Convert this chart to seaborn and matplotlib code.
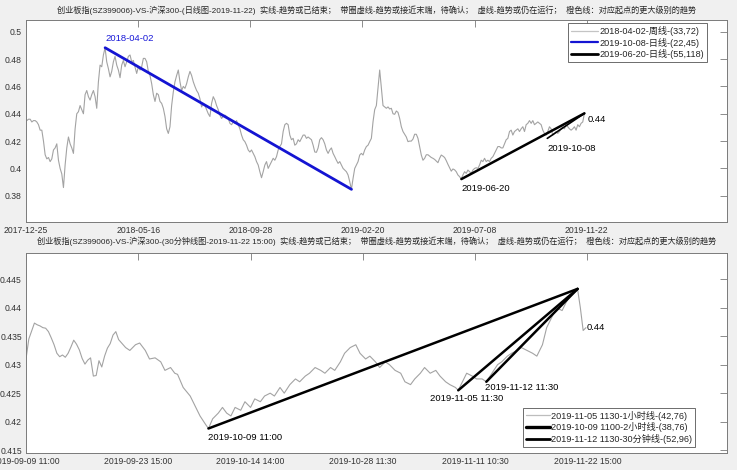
import numpy as np
import pandas as pd
import matplotlib
matplotlib.use("Agg")
import matplotlib.pyplot as plt
from matplotlib.lines import Line2D
from matplotlib.ticker import FuncFormatter
import seaborn as sns

# ---------------- data: daily chart (top) ----------------
TOP_TITLE = ("创业板指(SZ399006)-VS-沪深300-(日线图-2019-11-22)  实线-趋势或已结束；  "
             "带圈虚线-趋势或接近末端，待确认；  虚线-趋势或仍在运行；  橙色线：对应起点的更大级别的趋势")
TOP_TICK_IDX = [0, 94, 188, 282, 376, 470]
TOP_TICK_LABELS = ["2017-12-25", "2018-05-16", "2018-09-28", "2019-02-20", "2019-07-08", "2019-11-22"]
TOP_FIRST_IDX, TOP_LAST_IDX = 0.7, 468.0
TOP_VALUES = [
    0.435, 0.436, 0.436, 0.434, 0.435, 0.435, 0.434, 0.432, 0.428, 0.428,
    0.420, 0.410, 0.407, 0.408, 0.405, 0.407, 0.4135, 0.415, 0.418, 0.406,
    0.400, 0.396, 0.386, 0.4025, 0.415, 0.423, 0.418, 0.415, 0.411, 0.429,
    0.440, 0.4415, 0.446, 0.443, 0.440, 0.454, 0.457, 0.4525, 0.450, 0.454,
    0.457, 0.4525, 0.444, 0.4634, 0.4756, 0.4744, 0.483, 0.4883, 0.478, 0.473,
    0.467, 0.471, 0.478, 0.482, 0.4756, 0.472, 0.4664, 0.4756, 0.479, 0.4744,
    0.478, 0.482, 0.483, 0.478, 0.479, 0.4744, 0.4695, 0.4744, 0.472, 0.4744,
    0.4805, 0.4805, 0.478, 0.471, 0.468, 0.462, 0.454, 0.449, 0.455, 0.454,
    0.449, 0.4476, 0.444, 0.438, 0.429, 0.4256, 0.4305,
    0.446, 0.456, 0.4634, 0.468, 0.472, 0.4634, 0.457, 0.460, 0.4586, 0.462,
    0.467, 0.471, 0.468, 0.4634, 0.460, 0.457, 0.455, 0.451, 0.445, 0.4476,
    0.446, 0.443, 0.440, 0.438, 0.4476, 0.4525, 0.450, 0.446, 0.443, 0.439,
    0.4366, 0.438, 0.439, 0.438, 0.4366, 0.433, 0.432, 0.434, 0.433, 0.435,
    0.432, 0.429, 0.4244, 0.421, 0.4196, 0.417, 0.4135, 0.412, 0.4135, 0.411,
    0.4086, 0.405, 0.4025, 0.3976, 0.3932, 0.3976, 0.4025, 0.405, 0.400, 0.4025,
    0.405, 0.4074, 0.406, 0.4086, 0.4135, 0.416, 0.418, 0.427, 0.432, 0.433,
    0.432, 0.4244, 0.421, 0.422, 0.417, 0.418, 0.421, 0.4196, 0.422, 0.4244,
    0.4244, 0.422, 0.423, 0.422,
    0.421, 0.417, 0.412, 0.4118, 0.415, 0.421, 0.4225, 0.421, 0.418, 0.4135,
    0.411, 0.4135, 0.415, 0.411, 0.4086, 0.406, 0.4037, 0.405, 0.4025, 0.400,
    0.3988, 0.3976, 0.3952, 0.3903, 0.3847, 0.3927, 0.400, 0.4025, 0.405, 0.4098,
    0.411, 0.4098, 0.4135, 0.416, 0.417, 0.4196, 0.422, 0.4342, 0.443, 0.446,
    0.4586, 0.472, 0.4586, 0.446, 0.445, 0.444, 0.445, 0.4435, 0.444, 0.440,
    0.4396, 0.442, 0.441, 0.4366, 0.4305, 0.427, 0.425, 0.423, 0.4196, 0.420,
    0.420, 0.4215, 0.425, 0.425, 0.422, 0.416, 0.4098, 0.406, 0.4074, 0.410,
    0.410, 0.409, 0.408, 0.4074, 0.4066, 0.4054, 0.4042, 0.4074, 0.4098, 0.409,
    0.408, 0.4057, 0.403, 0.4005, 0.398, 0.3996, 0.399,
    0.3976, 0.3952, 0.394, 0.3922, 0.3952, 0.3976, 0.3964, 0.3988, 0.3976, 0.3964,
    0.3988, 0.400, 0.4005, 0.400, 0.4025, 0.406, 0.405, 0.4074, 0.405, 0.406,
    0.405, 0.4074, 0.4086, 0.411, 0.4135, 0.416, 0.416, 0.415, 0.415, 0.418,
    0.421, 0.422, 0.427, 0.428, 0.4244, 0.427, 0.428, 0.429, 0.427, 0.429,
    0.4305, 0.427, 0.432, 0.433, 0.435, 0.433, 0.435, 0.432, 0.433, 0.434,
    0.433, 0.432, 0.428, 0.4256, 0.4244, 0.427, 0.4305, 0.429, 0.4244, 0.4256,
    0.427, 0.4256, 0.427, 0.429, 0.4305, 0.429, 0.432, 0.4305, 0.429, 0.428,
    0.429, 0.4305, 0.428, 0.432, 0.4305, 0.433, 0.434, 0.4403,
]
TOP_LEGEND = ["2018-04-02-周线-(33,72)", "2019-10-08-日线-(22,45)", "2019-06-20-日线-(55,118)"]
BLUE_IDX, BLUE_VAL = [66.3, 272.8], [0.4883, 0.3847]
BLACK_IDX, BLACK_VAL = [364.9, 468.0], [0.3922, 0.4403]
SHORT_IDX, SHORT_VAL = [436.9, 468.0], [0.4220, 0.4403]
TOP_LABELS = ["2018-04-02", "2019-06-20", "2019-10-08", "0.44"]

# ---------------- data: 30-minute chart (bottom) ----------------
BOT_TITLE = ("创业板指(SZ399006)-VS-沪深300-(30分钟线图-2019-11-22 15:00)  实线-趋势或已结束；  "
             "带圈虚线-趋势或接近末端，待确认；  虚线-趋势或仍在运行；  橙色线：对应起点的更大级别的趋势")
BOT_TICK_IDX = [0, 80, 160, 240, 320, 400]
BOT_TICK_LABELS = ["2019-09-09 11:00", "2019-09-23 15:00", "2019-10-14 14:00",
                   "2019-10-28 11:30", "2019-11-11 10:30", "2019-11-22 15:00"]
BOT_BARS = list(range(0, 67, 2)) + [
    71, 74, 78, 81, 85, 88, 92, 96, 99, 103, 106, 108, 112, 117, 121, 124, 128, 130,
    133, 137, 140, 143, 146, 149, 153, 156, 160, 163, 167, 170, 174, 177, 181, 184,
    188, 192, 195, 199, 202, 206, 210, 213, 217, 220, 224, 227, 231, 235, 238, 242,
    245, 249, 252, 256, 259, 263, 267, 270, 274, 277, 281, 284, 288, 292, 295, 299,
    302, 306, 308, 311, 314, 318, 321, 325, 328, 332, 336, 339, 343, 346, 350, 353,
    357, 361, 364, 368, 371, 375, 378, 382, 385, 389, 393, 395, 397, 399]
BOT_VALUES = [
    0.431, 0.4345, 0.4359, 0.4373, 0.437, 0.4368, 0.4365, 0.4364, 0.4358, 0.4347,
    0.4335, 0.432, 0.4314, 0.4317, 0.4313, 0.432, 0.4331, 0.4343, 0.4336, 0.4326,
    0.4311, 0.4301, 0.4308, 0.4312, 0.428, 0.4281, 0.4307, 0.4296, 0.4315, 0.4329,
    0.4337, 0.4352, 0.4358, 0.4344,
    0.433, 0.4325, 0.4335, 0.4338, 0.4325, 0.431, 0.4312, 0.4305, 0.429, 0.4295,
    0.4285, 0.4283, 0.426, 0.4245, 0.4225, 0.421, 0.4195, 0.4188,
    0.4205, 0.4215, 0.4225, 0.4215, 0.421, 0.4225, 0.422, 0.4235, 0.4225, 0.424,
    0.4235, 0.4245, 0.425, 0.4245, 0.426, 0.425,
    0.4265, 0.4275, 0.427, 0.428, 0.4285, 0.4295, 0.429, 0.4285, 0.4295, 0.429,
    0.4305, 0.432, 0.433, 0.4335, 0.432, 0.431,
    0.4315, 0.4305, 0.4295, 0.4305, 0.430, 0.429, 0.4285, 0.427, 0.4265, 0.4275,
    0.4285, 0.4295, 0.4285, 0.429, 0.428, 0.427,
    0.4265, 0.426, 0.4255, 0.427, 0.4285, 0.428, 0.4275, 0.4275, 0.427, 0.4285,
    0.430, 0.4305, 0.4315, 0.432, 0.4325, 0.433,
    0.4325, 0.432, 0.4315, 0.4335, 0.4365, 0.4385, 0.440, 0.4395, 0.441, 0.4425,
    0.4433, 0.440, 0.436, 0.4365]
BOT_LEGEND = ["2019-11-05 1130-1小时线-(42,76)", "2019-10-09 1100-2小时线-(38,76)",
              "2019-11-12 1130-30分钟线-(52,96)"]
L1_IDX, L1_VAL = [130, 393], [0.4188, 0.4433]
L2_IDX, L2_VAL = [308, 393], [0.4255, 0.4433]
L3_IDX, L3_VAL = [328, 393], [0.4270, 0.4433]
BOT_LABELS = ["2019-10-09 11:00", "2019-11-05 11:30", "2019-11-12 11:30", "0.44"]

# ---------------- style ----------------
sns.set_style("white")
plt.rcParams["font.family"] = ["Liberation Sans", "Noto Sans CJK SC", "DejaVu Sans"]

W, H = 737, 470
fig = plt.figure(figsize=(W / 100, H / 100), dpi=100, facecolor="#f0f0f0")
ax1 = fig.add_axes([26 / W, 1 - 222 / H, 701 / W, 202 / H])
ax2 = fig.add_axes([26 / W, 1 - 453 / H, 701 / W, 200 / H])

GRAY = "#a3a3a3"
SPINE = "#7a7a7a"
TXT = "#333333"


def style_axes(ax):
    ax.set_facecolor("white")
    for s in ax.spines.values():
        s.set_color(SPINE)
        s.set_linewidth(0.7)
    ax.tick_params(direction="in", length=5, width=0.6, color=SPINE,
                   top=True, right=True, labelsize=6.2, labelcolor=TXT, pad=3)
    ax.yaxis.set_major_formatter(FuncFormatter(lambda v, p: "{:g}".format(round(v, 4))))
    ax.set_xlabel("")
    ax.set_ylabel("")


top_df = pd.DataFrame({"idx": np.linspace(TOP_FIRST_IDX, TOP_LAST_IDX, len(TOP_VALUES)),
                       "val": TOP_VALUES})
sns.lineplot(data=top_df, x="idx", y="val", ax=ax1, color=GRAY, linewidth=0.8,
             legend=False, sort=False)
sns.lineplot(x=BLUE_IDX, y=BLUE_VAL, ax=ax1, color="#1414d2", linewidth=2.0, legend=False)
sns.lineplot(x=BLACK_IDX, y=BLACK_VAL, ax=ax1, color="black", linewidth=1.8, legend=False)
sns.lineplot(x=SHORT_IDX, y=SHORT_VAL, ax=ax1, color="black", linewidth=1.2, legend=False)

ax1.set_xlim(0, 587.5)
ax1.set_ylim(0.3608, 0.5086)
ax1.set_xticks(TOP_TICK_IDX)
ax1.set_xticklabels(TOP_TICK_LABELS)
ax1.set_yticks(np.arange(0.38, 0.5001, 0.02))
style_axes(ax1)

afs = 6.8
ax1.annotate(TOP_LABELS[0], xy=(BLUE_IDX[0], BLUE_VAL[0]), xytext=(0, 9),
             textcoords="offset pixels", ha="left", va="center", fontsize=afs, color="#1a1ad8")
ax1.annotate(TOP_LABELS[1], xy=(BLACK_IDX[0], BLACK_VAL[0]), xytext=(0, -9),
             textcoords="offset pixels", ha="left", va="center", fontsize=afs, color="black")
ax1.annotate(TOP_LABELS[2], xy=(SHORT_IDX[0], SHORT_VAL[0]), xytext=(0, -10),
             textcoords="offset pixels", ha="left", va="center", fontsize=afs, color="black")
ax1.annotate(TOP_LABELS[3], xy=(top_df["idx"].iloc[-1], TOP_VALUES[-1]), xytext=(3, -6),
             textcoords="offset pixels", ha="left", va="center", fontsize=afs, color="black")

h1 = [Line2D([], [], color="#c4c4c4", lw=0.9),
      Line2D([], [], color="#1414d2", lw=1.6),
      Line2D([], [], color="black", lw=2.0)]
leg1 = ax1.legend(h1, TOP_LEGEND, loc="upper right", bbox_to_anchor=(0.9715, 0.985),
                  fontsize=6.6, frameon=True, fancybox=False, framealpha=1,
                  edgecolor="#555555", handlelength=2.9, handletextpad=0.2,
                  labelspacing=0.2, borderpad=0.3, borderaxespad=0)
leg1.get_frame().set_linewidth(0.6)

bot_df = pd.DataFrame({"bar": BOT_BARS, "val": BOT_VALUES})
sns.lineplot(data=bot_df, x="bar", y="val", ax=ax2, color=GRAY, linewidth=0.8,
             legend=False, sort=False)
sns.lineplot(x=L1_IDX, y=L1_VAL, ax=ax2, color="black", linewidth=1.8, legend=False)
sns.lineplot(x=L2_IDX, y=L2_VAL, ax=ax2, color="black", linewidth=1.8, legend=False)
sns.lineplot(x=L3_IDX, y=L3_VAL, ax=ax2, color="black", linewidth=1.8, legend=False)

ax2.set_xlim(0, 499.5)
ax2.set_ylim(0.4145, 0.4496)
ax2.set_xticks(BOT_TICK_IDX)
ax2.set_xticklabels(BOT_TICK_LABELS)
ax2.set_yticks(np.arange(0.415, 0.44501, 0.005))
style_axes(ax2)

ax2.annotate(BOT_LABELS[0], xy=(L1_IDX[0], L1_VAL[0]), xytext=(0, -9),
             textcoords="offset pixels", ha="left", va="center", fontsize=afs, color="black")
ax2.annotate(BOT_LABELS[1], xy=(L2_IDX[0], L2_VAL[0]), xytext=(-28, -8),
             textcoords="offset pixels", ha="left", va="center", fontsize=afs, color="black")
ax2.annotate(BOT_LABELS[2], xy=(L3_IDX[0], L3_VAL[0]), xytext=(-1, -6),
             textcoords="offset pixels", ha="left", va="center", fontsize=afs, color="black")
ax2.annotate(BOT_LABELS[3], xy=(BOT_BARS[-1], BOT_VALUES[-1]), xytext=(1, 0),
             textcoords="offset pixels", ha="left", va="center", fontsize=afs, color="black")

h2 = [Line2D([], [], color="#bdbdbd", lw=0.9),
      Line2D([], [], color="black", lw=2.4),
      Line2D([], [], color="black", lw=2.0)]
leg2 = ax2.legend(h2, BOT_LEGEND, loc="lower left", bbox_to_anchor=((523 - 26) / 701, 0.03),
                  fontsize=6.6, frameon=True, fancybox=False, framealpha=1,
                  edgecolor="#555555", handlelength=2.6, handletextpad=0.2,
                  labelspacing=0.2, borderpad=0.3, borderaxespad=0)
leg2.get_frame().set_linewidth(0.6)

fig.text(376.5 / W, 1 - 10 / H, TOP_TITLE, ha="center", va="center", fontsize=5.9, color="#262626")
fig.text(376.5 / W, 1 - 241 / H, BOT_TITLE, ha="center", va="center", fontsize=5.9, color="#262626")

fig.savefig("out.png", dpi=100, facecolor=fig.get_facecolor())
